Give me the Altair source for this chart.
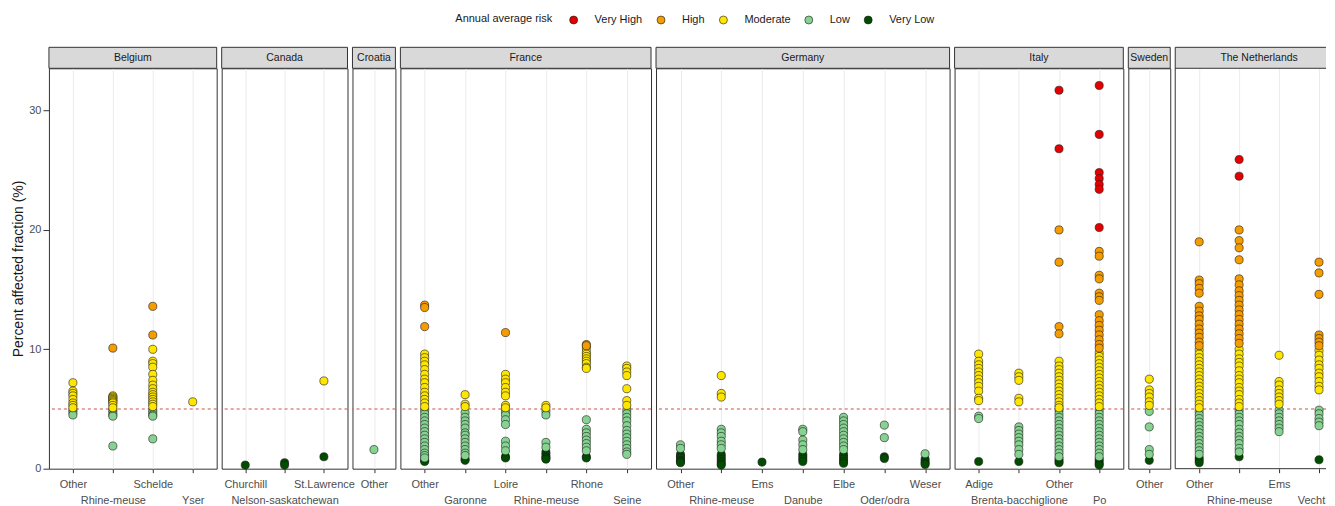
import altair as alt
import pandas as pd

# ---------------- data ----------------
RISKS = ["Very High", "High", "Moderate", "Low", "Very Low"]
RISK_COLORS = ["#e30000", "#f59c00", "#ffe600", "#86d391", "#004d00"]
THRESHOLD = [5]
Y_TICKS = [0, 10, 20, 30]

belgium = {
    "Other": {"Moderate": [7.2, 6.5, 6.3, 6.1, 5.8, 5.5, 5.3, 5.1],
              "Low": [4.9, 4.7, 4.5]},
    "Rhine-meuse": {"High": [10.1],
                    "Moderate": [6.1, 6.0, 5.9, 5.8, 5.7, 5.6, 5.5, 5.3, 5.1],
                    "Low": [4.9, 4.7, 4.5, 4.4, 1.9]},
    "Schelde": {"High": [13.6, 11.2],
                "Moderate": [10.0, 9.0, 8.8, 8.5, 7.9, 7.4, 7.0, 6.7, 6.4, 6.2, 6.0, 5.8, 5.6, 5.4, 5.2],
                "Low": [4.9, 4.7, 4.5, 4.4, 2.5]},
    "Yser": {"Moderate": [5.6]},
}

canada = {
    "Churchill": {"Very Low": [0.3]},
    "Nelson-saskatchewan": {"Very Low": [0.5, 0.3]},
    "St.Lawrence": {"Moderate": [7.35], "Very Low": [1.0]},
}

croatia = {
    "Other": {"Low": [1.6]},
}

france = {
    "Other": {"High": [13.7, 13.5, 11.9],
              "Moderate": [9.6, 9.3, 9.0, 8.7, 8.3, 7.9, 7.5, 7.2, 6.8, 6.4, 6.1, 5.8, 5.5, 5.2],
              "Low": [4.9, 4.6, 4.3, 4.0, 3.7, 3.4, 3.1, 2.8, 2.5, 2.2, 1.9, 1.6, 1.3, 1.1, 0.9],
              "Very Low": [0.7, 0.6]},
    "Garonne": {"Moderate": [6.2, 5.4, 5.2],
                "Low": [4.7, 4.3, 4.0, 3.7, 3.4, 3.0, 2.8, 2.5, 2.2, 1.9, 1.6, 1.3, 1.1],
                "Very Low": [0.8, 0.7]},
    "Loire": {"High": [11.4],
              "Moderate": [7.9, 7.5, 7.2, 6.8, 6.4, 6.1, 5.3, 5.1],
              "Low": [4.8, 4.5, 4.1, 3.7, 2.3, 1.9, 1.5],
              "Very Low": [1.0, 0.9]},
    "Rhine-meuse": {"Moderate": [5.3, 5.1],
                    "Low": [4.8, 4.5, 2.2, 1.8],
                    "Very Low": [1.4, 1.2, 1.0, 0.9, 0.8]},
    "Rhone": {"High": [10.4, 10.3],
              "Moderate": [10.1, 9.8, 9.6, 9.4, 9.2, 9.0, 8.8, 8.5, 8.4],
              "Low": [4.1, 3.3, 3.0, 2.7, 2.4, 2.1, 1.8, 1.5],
              "Very Low": [1.0, 0.9]},
    "Seine": {"Moderate": [8.6, 8.4, 8.1, 7.8, 6.7, 5.7, 5.3],
              "Low": [4.9, 4.6, 4.3, 4.0, 3.6, 3.2, 2.9, 2.6, 2.3, 2.0, 1.7, 1.4, 1.2]},
}

germany = {
    "Other": {"Low": [2.0, 1.7], "Very Low": [1.2, 1.0, 0.9, 0.7, 0.6, 0.5]},
    "Rhine-meuse": {"Moderate": [7.8, 6.3, 6.0],
                    "Low": [3.3, 3.0, 2.7, 2.3, 2.0, 1.7],
                    "Very Low": [1.2, 1.0, 0.8, 0.6, 0.4, 0.3]},
    "Ems": {"Very Low": [0.55]},
    "Danube": {"Low": [3.3, 3.1, 2.4, 2.0, 1.6], "Very Low": [1.2, 1.0, 0.8, 0.6]},
    "Elbe": {"Low": [4.3, 4.0, 3.7, 3.4, 3.1, 2.8, 2.5, 2.2, 1.9, 1.6],
             "Very Low": [1.2, 1.0, 0.8, 0.6, 0.45]},
    "Oder/odra": {"Low": [3.65, 2.6], "Very Low": [1.0, 0.85]},
    "Weser": {"Low": [1.25], "Very Low": [0.8, 0.6, 0.45, 0.35]},
}

italy = {
    "Adige": {"Moderate": [9.6, 9.0, 8.7, 8.4, 8.1, 7.8, 7.5, 7.2, 6.9, 6.5, 5.9, 5.7],
              "Low": [4.4, 4.2],
              "Very Low": [0.6]},
    "Brenta-bacchiglione": {"Moderate": [8.0, 7.7, 7.4, 5.9, 5.6],
                            "Low": [3.5, 3.2, 2.9, 2.6, 2.3, 2.0, 1.6, 1.2],
                            "Very Low": [0.6]},
    "Other": {"Very High": [31.7, 26.8],
              "High": [20.0, 17.3, 11.9, 11.3],
              "Moderate": [9.0, 8.6, 8.3, 8.0, 7.7, 7.4, 7.1, 6.8, 6.5, 6.2, 5.9, 5.6, 5.3, 5.1],
              "Low": [4.9, 4.6, 4.3, 4.0, 3.7, 3.4, 3.1, 2.8, 2.5, 2.2, 1.9, 1.6, 1.3, 1.0],
              "Very Low": [0.8, 0.6, 0.5]},
    "Po": {"Very High": [32.1, 28.0, 24.8, 24.3, 23.8, 23.4, 20.2],
           "High": [18.2, 17.8, 16.2, 15.9, 14.7, 14.4, 14.1, 12.9, 12.4, 12.0, 11.6, 11.2, 10.8, 10.4, 10.1],
           "Moderate": [9.7, 9.4, 9.1, 8.8, 8.5, 8.2, 7.9, 7.6, 7.3, 7.0, 6.7, 6.4, 6.1, 5.8, 5.5, 5.2],
           "Low": [4.9, 4.6, 4.3, 4.0, 3.7, 3.4, 3.1, 2.8, 2.5, 2.2, 1.9, 1.6, 1.3, 1.0],
           "Very Low": [0.8, 0.6, 0.4, 0.3]},
}

sweden = {
    "Other": {"Moderate": [7.5, 6.6, 6.3, 6.0, 5.6, 5.3],
              "Low": [4.8, 3.5, 1.6, 1.2],
              "Very Low": [0.7]},
}

netherlands = {
    "Other": {"High": [19.0, 15.8, 15.5, 15.1, 14.7, 13.6, 13.2, 12.8, 12.5, 12.1, 11.7, 11.35, 11.0, 10.6, 10.3],
              "Moderate": [9.95, 9.6, 9.3, 9.0, 8.7, 8.4, 8.1, 7.8, 7.5, 7.2, 6.9, 6.6, 6.3, 6.0, 5.7, 5.4, 5.1],
              "Low": [4.8, 4.5, 4.2, 3.9, 3.6, 3.3, 3.0, 2.7, 2.4, 2.1, 1.8, 1.5, 1.2],
              "Very Low": [0.9, 0.7, 0.5]},
    "Rhine-meuse": {"Very High": [25.9, 24.5],
                    "High": [20.0, 19.1, 18.5, 17.5, 15.9, 15.4, 14.9, 14.5, 14.1, 13.7, 13.3, 12.9, 12.5, 12.1, 11.7, 11.3, 10.9, 10.5],
                    "Moderate": [10.0, 9.6, 9.2, 8.9, 8.6, 8.2, 7.8, 7.5, 7.2, 6.8, 6.5, 6.2, 5.8, 5.5, 5.2],
                    "Low": [4.9, 4.6, 4.3, 4.0, 3.7, 3.3, 3.0, 2.7, 2.4, 2.1, 1.7, 1.4],
                    "Very Low": [1.0]},
    "Ems": {"Moderate": [9.5, 7.3, 7.0, 6.6, 6.3, 6.0, 5.7, 5.4],
            "Low": [4.9, 4.6, 4.3, 4.0, 3.7, 3.4, 3.1]},
    "Vecht": {"High": [17.3, 16.4, 14.6, 11.2, 10.9, 10.6, 10.3],
              "Moderate": [9.9, 9.5, 9.1, 8.7, 8.4, 8.0, 7.7, 7.3, 6.9, 6.6],
              "Low": [4.9, 4.6, 4.2, 3.9, 3.6],
              "Very Low": [0.75]},
}

COUNTRIES = [
    ("Belgium", belgium),
    ("Canada", canada),
    ("Croatia", croatia),
    ("France", france),
    ("Germany", germany),
    ("Italy", italy),
    ("Sweden", sweden),
    ("The Netherlands", netherlands),
]

# ---------------- layout ----------------
# nominal panel widths (as in the uncropped figure) and the drawn width
PANEL_W = {"Belgium": 168, "Canada": 126, "Croatia": 43, "France": 251,
           "Germany": 294, "Italy": 169, "Sweden": 42, "The Netherlands": 168}
DRAWN_W = {"The Netherlands": 151}   # the reference is cropped at its right edge
PANEL_H = 401
STRIP_H = 21
Y_MAX = 33.54
PAD = 0.6
FONT = "Liberation Sans"
BORDER = "#333333"

color_scale = alt.Scale(domain=RISKS, range=RISK_COLORS)
y_scale = alt.Scale(domain=[0, Y_MAX], nice=False, zero=False)


def to_frame(country, basins):
    rows = []
    for risk in reversed(RISKS):
        for basin, by_risk in basins.items():
            for v in by_risk.get(risk, []):
                rows.append({"country": country, "basin": basin, "risk": risk, "value": v})
    return pd.DataFrame(rows)


def panel(country, basins, first, last):
    order = list(basins.keys())
    nominal = PANEL_W[country]
    w = DRAWN_W.get(country, nominal)
    cropped = w != nominal
    n = len(order)
    row2 = order[1::2]
    if row2:
        lst = ",".join("'" + b + "'" for b in row2)
        label_expr = "indexof([" + lst + "], datum.label) >= 0 ? ['', datum.label] : datum.label"
    else:
        label_expr = "datum.label"

    if cropped and n > 1:
        step = nominal / (n - 1 + 2 * PAD)
        x_scale = alt.Scale(type="point", padding=0,
                            range=[PAD * step, PAD * step + (n - 1) * step])
    else:
        x_scale = alt.Scale(type="point", padding=PAD)

    axis_kw = dict(title=None, labelExpr=label_expr, labelLineHeight=16,
                   labelOverlap=False, labelAngle=0, labelFontSize=11,
                   labelColor="#4d4d4d", labelPadding=6, tickSize=4,
                   tickColor=BORDER, domain=False, grid=True,
                   gridColor="#ebebeb", gridWidth=1, labelFont=FONT)
    if last:
        # keep the last label inside the page, like the cropped reference
        axis_kw["labelOffset"] = alt.expr("datum.value == '" + order[-1] + "' ? -8 : 0")
    x_axis = alt.Axis(**axis_kw)

    if first:
        y_axis = alt.Axis(values=Y_TICKS, title="Percent affected fraction (%)",
                          titleFontSize=14, titleFontWeight="normal", titleColor="#1a1a1a",
                          titlePadding=3, labelFontSize=11, labelColor="#4d4d4d",
                          labelPadding=2, tickSize=6, tickColor=BORDER,
                          domain=False, grid=False, labelFont=FONT, titleFont=FONT)
    else:
        y_axis = None

    df = to_frame(country, basins)

    thr = alt.Chart(pd.DataFrame({"value": THRESHOLD})).mark_rule(
        color="#c8504b", strokeDash=[3, 3], strokeWidth=1
    ).encode(y=alt.Y("value:Q", scale=y_scale, axis=y_axis))

    pts = alt.Chart(df).mark_circle(
        size=66, stroke="#1a1a1a", strokeWidth=0.6, opacity=1
    ).encode(
        x=alt.X("basin:N", sort=order, scale=x_scale, axis=x_axis),
        y=alt.Y("value:Q", scale=y_scale, axis=y_axis),
        fill=alt.Fill("risk:N", scale=color_scale,
                      legend=alt.Legend(title="Annual average risk")),
    )

    strip_df = pd.DataFrame({"country": [country]})
    layers = [thr, pts]
    if cropped:
        # panel continues past the page edge: frame only top, left and bottom
        strip_rect = alt.Chart(strip_df).mark_rect(fill="#d9d9d9").encode(
            x=alt.value(0), x2=alt.value(w), y=alt.value(-STRIP_H), y2=alt.value(0))
        layers.append(strip_rect)
        for y_px in (-STRIP_H, 0, PANEL_H):
            layers.append(alt.Chart(strip_df).mark_rule(color=BORDER, strokeWidth=1).encode(
                x=alt.value(0), x2=alt.value(w), y=alt.value(y_px)))
        layers.append(alt.Chart(strip_df).mark_rule(color=BORDER, strokeWidth=1).encode(
            x=alt.value(0), y=alt.value(-STRIP_H), y2=alt.value(PANEL_H)))
    else:
        strip_rect = alt.Chart(strip_df).mark_rect(
            fill="#d9d9d9", stroke=BORDER, strokeWidth=1
        ).encode(x=alt.value(0), x2=alt.value(w),
                 y=alt.value(-STRIP_H), y2=alt.value(0))
        layers.append(strip_rect)
    strip_text = alt.Chart(strip_df).mark_text(
        fontSize=10.5, color="#1a1a1a", baseline="middle", align="center", font=FONT
    ).encode(x=alt.value(nominal / 2), y=alt.value(-STRIP_H / 2), text="country:N")
    layers.append(strip_text)

    out = alt.layer(*layers).properties(width=w, height=PANEL_H)
    if cropped:
        out = out.properties(view=alt.ViewBackground(stroke="transparent"))
    return out


panels = [panel(c, b, i == 0, i == len(COUNTRIES) - 1) for i, (c, b) in enumerate(COUNTRIES)]

chart = alt.hconcat(*panels, spacing=5, bounds="flush").resolve_scale(
    x="independent"
).properties(
    padding={"left": 3, "top": 6, "right": 0, "bottom": 0}
).configure(
    font=FONT
).configure_view(
    stroke=BORDER, strokeWidth=1
).configure_legend(
    orient="none", legendX=407, legendY=-54, direction="horizontal",
    titleOrient="left", titleFontSize=11, titleFontWeight="normal",
    titleColor="#1a1a1a", titlePadding=15, titleBaseline="middle",
    labelFontSize=11, labelColor="#1a1a1a", labelOffset=15.5,
    columnPadding=12.5, symbolType="circle", symbolSize=64,
    symbolStrokeColor="#1a1a1a", symbolStrokeWidth=0.6, padding=0,
    titleFont=FONT, labelFont=FONT
)

chart.save("out.html", embed_options={"renderer": "svg", "actions": False})
